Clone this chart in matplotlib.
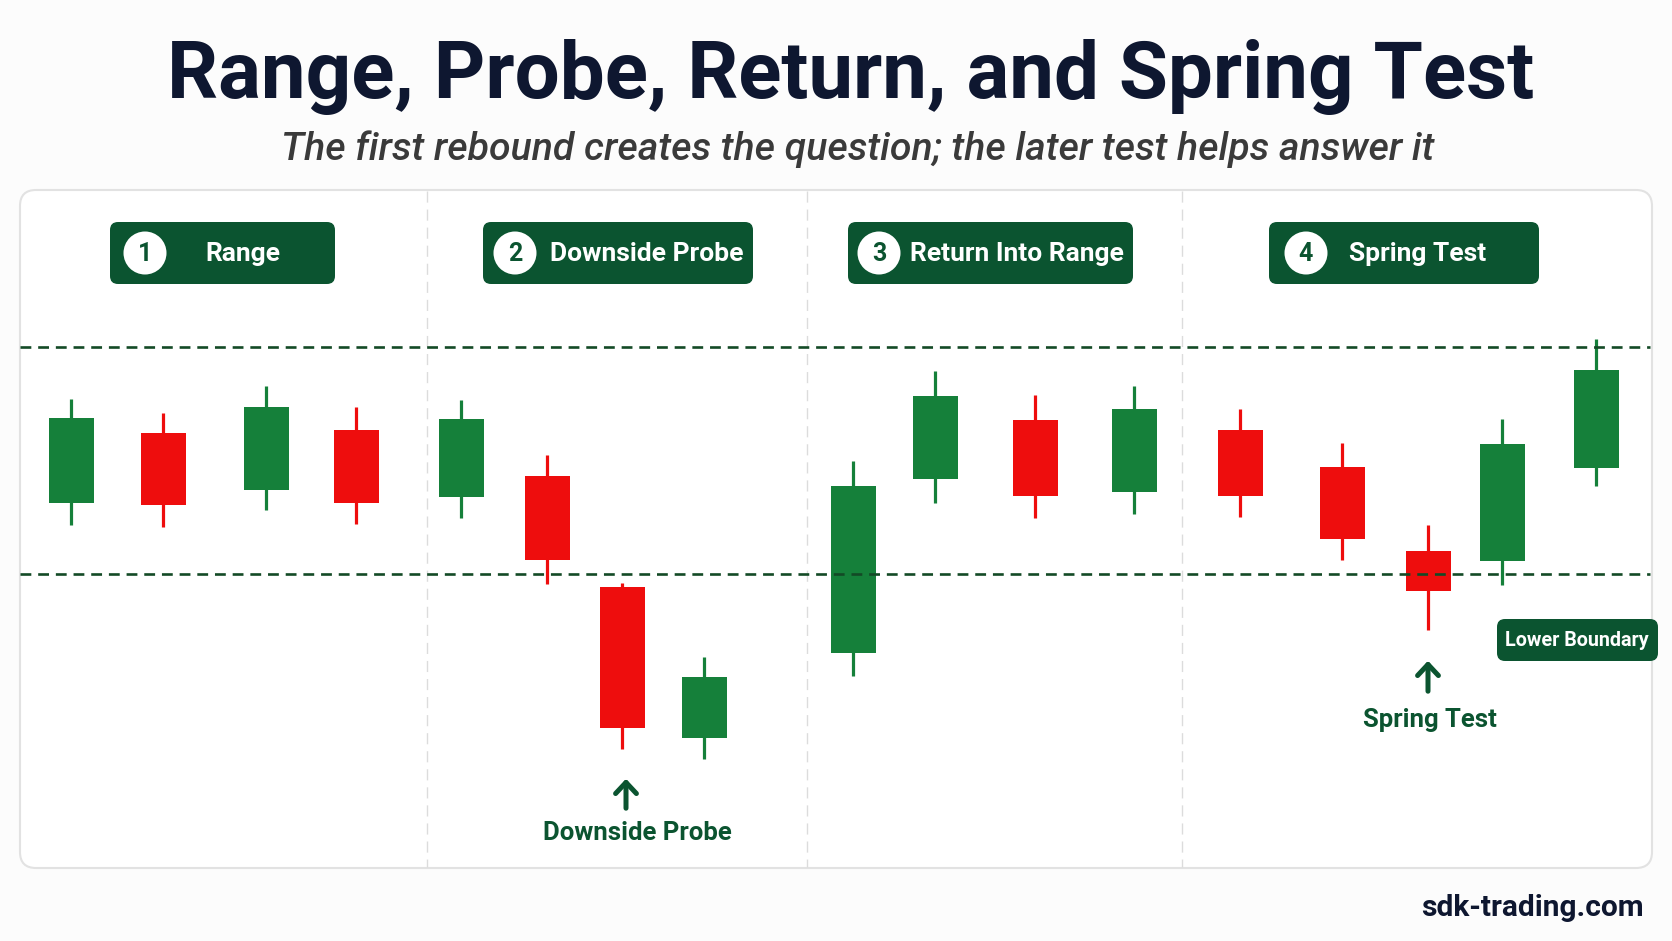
import matplotlib
matplotlib.use("Agg")
import matplotlib.pyplot as plt
from matplotlib.patches import FancyBboxPatch, Circle

# candle data (x = slot position along the panel, prices in arbitrary units)
candle_x = [71, 163, 266, 356, 461, 547, 622, 704, 853, 935, 1035, 1134, 1240, 1342, 1428, 1502, 1596]
opens = [106.2, 112.4, 107.4, 112.6, 106.7, 108.6, 98.8, 85.5, 93.0, 108.3, 113.5, 107.2, 112.6, 109.4, 102.0, 101.1, 109.3]
closes = [113.7, 106.0, 114.7, 106.2, 113.6, 101.2, 86.4, 90.9, 107.7, 115.6, 106.8, 114.5, 106.8, 103.0, 98.5, 111.4, 117.9]
highs = [115.4, 114.1, 116.5, 114.7, 115.3, 110.4, 99.2, 92.6, 109.9, 117.8, 115.7, 116.5, 114.5, 111.5, 104.3, 113.6, 120.7]
lows = [104.3, 104.1, 105.6, 104.4, 104.9, 99.1, 84.5, 83.7, 91.0, 106.2, 104.9, 105.2, 105.0, 101.2, 95.0, 99.0, 107.7]

upper_level = 120
lower_level = 100

stages = ["Range", "Downside Probe", "Return Into Range", "Spring Test"]

GREEN = "#15803a"
RED = "#ee0d0d"
DARK = "#0b5430"
NAVY = "#0e1730"

W, H = 1672, 941
fig = plt.figure(figsize=(W / 100, H / 100), dpi=100, facecolor="#fcfcfc")

# layout axes in pixel coords (y down)
lay = fig.add_axes([0, 0, 1, 1])
lay.set_xlim(0, W)
lay.set_ylim(H, 0)
lay.axis("off")

# price axes: 100 sits at px 573.5, 1 unit = 11.35 px
ax = fig.add_axes([0, 0, 1, 1])
ax.set_xlim(0, W)
ax.set_ylim(100 - (H - 573.5) / 11.35, 100 + 573.5 / 11.35)
ax.axis("off")
ax.patch.set_alpha(0)

# panel + stage separators
lay.add_patch(FancyBboxPatch((20, 190), 1632, 678, boxstyle="round,pad=0,rounding_size=16",
                             fc="white", ec="#e2e2e2", lw=1.5, zorder=0))
for sx in [427, 807, 1182]:
    lay.plot([sx, sx], [191, 867], color="#dcdcdc", lw=1, ls=(0, (8, 5)), zorder=1)

# title + subtitle
lay.text(851, 98, "Range, Probe, Return, and Spring Test", ha="center", va="baseline",
         fontsize=57.5, fontweight="bold", family="Roboto", color=NAVY)
lay.text(858, 160, "The first rebound creates the question; the later test helps answer it",
         ha="center", va="baseline", fontsize=28.3, style="italic", fontweight="medium",
         family="Roboto", color="#3a3a3a")

# stage badges
badge_x = [(110, 335), (483, 753), (848, 1133), (1269, 1539)]
circle_x = [145, 515, 879, 1306]
label_x = [243, 550, 910, 1349]
for i, name in enumerate(stages):
    x0, x1 = badge_x[i]
    lay.add_patch(FancyBboxPatch((x0, 222), x1 - x0, 62, boxstyle="round,pad=0,rounding_size=8",
                                 fc=DARK, ec="none", zorder=3))
    lay.add_patch(Circle((circle_x[i], 253), 21.5, fc="white", ec="none", zorder=4))
    lay.text(circle_x[i], 254, str(i + 1), ha="center", va="center", fontsize=18, fontweight="bold",
             family="Roboto", color=DARK, zorder=5)
    lay.text(label_x[i], 254, name, ha="center" if i == 0 else "left", va="center", fontsize=19,
             fontweight="bold", family="Roboto", color="white", zorder=5)

# range boundaries
for lvl in [upper_level, lower_level]:
    ax.hlines(lvl, 20, 1650, color="#134a26", lw=1.9, linestyles=(0, (4.1, 2.6)), zorder=6)

# candles
for x, o, c, h, l in zip(candle_x, opens, closes, highs, lows):
    col = GREEN if c >= o else RED
    ax.vlines(x, l, h, color=col, lw=2.3, zorder=4)
    ax.bar(x, abs(c - o), bottom=min(o, c), width=45, color=col, zorder=5)

# annotations
arrow = dict(arrowstyle="->,head_length=0.8,head_width=0.75", color=DARK, lw=3.6)
lay.annotate("", xy=(626, 776), xytext=(626, 811), arrowprops=arrow)
lay.text(637, 833, "Downside Probe", ha="center", va="center", fontsize=18.5, fontweight="bold",
         family="Roboto", color=DARK)
lay.annotate("", xy=(1428, 658), xytext=(1428, 694), arrowprops=arrow)
lay.text(1430, 720, "Spring Test", ha="center", va="center", fontsize=18.5, fontweight="bold",
         family="Roboto", color=DARK)

lay.add_patch(FancyBboxPatch((1497, 619), 161, 42, boxstyle="round,pad=0,rounding_size=8",
                             fc=DARK, ec="none", zorder=7))
lay.text(1577, 640, "Lower Boundary", ha="center", va="center", fontsize=14.2, fontweight="bold",
         family="Roboto", color="white", zorder=8)

lay.text(1644, 908, "sdk-trading.com", ha="right", va="center", fontsize=21.5,
         fontweight="bold", family="Roboto", color=NAVY)

fig.savefig("out.png", dpi=100, facecolor=fig.get_facecolor())
